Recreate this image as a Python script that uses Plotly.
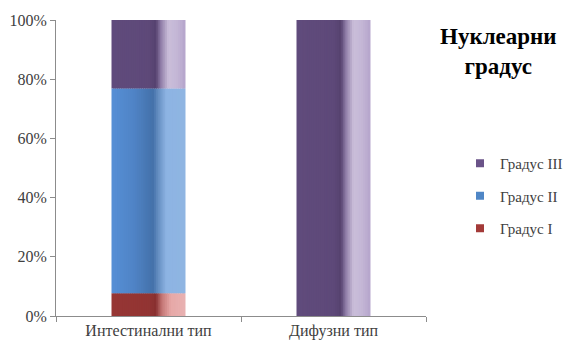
import plotly.graph_objects as go

# Data: share of nuclear grade by tumour type (%)
categories = ["Интестинални тип", "Дифузни тип"]
series_names = ["Градус I", "Градус II", "Градус III"]
grade_1 = [7.7, 0.0]
grade_2 = [69.2, 0.0]
grade_3 = [23.1, 100.0]
y_ticks = [0, 20, 40, 60, 80, 100]

series_values = [grade_1, grade_2, grade_3]

# Horizontal "cylinder" shading stops per series: (position across bar, rgb)
shading = {
    "Градус I": [(0.0, (150, 54, 52)), (0.5, (146, 52, 51)), (0.6, (136, 48, 48)),
                 (0.68, (196, 118, 117)), (0.8, (231, 168, 167)), (1.0, (232, 178, 178))],
    "Градус II": [(0.0, (86, 143, 214)), (0.3, (80, 132, 198)), (0.56, (68, 113, 170)),
                  (0.64, (104, 145, 196)), (0.74, (141, 180, 227)), (1.0, (143, 181, 226))],
    "Градус III": [(0.0, (96, 75, 124)), (0.5, (94, 73, 121)), (0.6, (86, 66, 111)),
                   (0.67, (146, 128, 170)), (0.77, (202, 190, 218)), (0.88, (196, 183, 214)),
                   (1.0, (181, 165, 204))],
}
legend_colors = {"Градус I": "#A33A38", "Градус II": "#4F86C6", "Градус III": "#6A5388"}


def shade(stops, t):
    for (p0, c0), (p1, c1) in zip(stops, stops[1:]):
        if p0 <= t <= p1:
            f = (t - p0) / (p1 - p0) if p1 > p0 else 0
            r, g, b = (round(a + (b_ - a) * f) for a, b_ in zip(c0, c1))
            return f"rgb({r},{g},{b})"
    r, g, b = stops[-1][1]
    return f"rgb({r},{g},{b})"


fig = go.Figure()

bar_width = 0.4
n_strips = 40
step = bar_width / n_strips

bases = [0.0] * len(categories)
for name, values in zip(series_names, series_values):
    stops = shading[name]
    for i in range(n_strips):
        t = (i + 0.5) / n_strips
        w = min(step * 1.6, bar_width - i * step)
        fig.add_trace(go.Bar(
            x=categories, y=values, base=list(bases),
            width=w, offset=-bar_width / 2 + i * step,
            marker=dict(color=shade(stops, t), line=dict(width=0)),
            showlegend=False, hoverinfo="skip",
        ))
    bases = [b + v for b, v in zip(bases, values)]

# Legend entries (Градус III on top)
for k, name in enumerate(reversed(series_names)):
    fig.add_trace(go.Scatter(
        x=[None], y=[None], mode="markers", name=name,
        marker=dict(symbol="square", size=8, color=legend_colors[name]),
        legendgroup=name, legendrank=k,
    ))

serif = "Liberation Serif, Times New Roman, serif"

ML, MR, MT, MB = 56, 145, 20, 27
W, H = 571, 343
plot_w = W - ML - MR
plot_h = H - MT - MB


def px_x(x):
    return (x - ML) / plot_w


def px_y(y):
    return (H - MB - y) / plot_h


fig.update_layout(
    width=W, height=H,
    margin=dict(l=ML, r=MR, t=MT, b=MB, autoexpand=False),
    paper_bgcolor="white", plot_bgcolor="white",
    barmode="overlay",
    font=dict(family=serif, size=16, color="#404040"),
    showlegend=True,
    legend=dict(
        x=px_x(460), y=px_y(147), xanchor="left", yanchor="top",
        tracegroupgap=10, itemsizing="trace",
        font=dict(family=serif, size=15, color="#404040"),
        bgcolor="rgba(0,0,0,0)",
    ),
    xaxis=dict(
        type="category", showline=True, linecolor="#8C8C8C", linewidth=1,
        ticks="outside", tickson="boundaries", ticklen=5, tickcolor="#8C8C8C",
        showgrid=False, tickfont=dict(family=serif, size=16, color="#404040"),
    ),
    yaxis=dict(
        range=[0, 100], tickvals=y_ticks, ticktext=[f"{v}%" for v in y_ticks],
        showline=True, linecolor="#8C8C8C", linewidth=1,
        ticks="outside", ticklen=5, tickcolor="#8C8C8C",
        showgrid=False, zeroline=False,
        tickfont=dict(family=serif, size=16, color="#404040"),
    ),
    annotations=[dict(
        text="<b>Нуклеарни<br>градус</b>",
        x=px_x(498), y=px_y(51), xref="paper", yref="paper",
        xanchor="center", yanchor="middle",
        showarrow=False, font=dict(family=serif, size=23, color="#000000"),
        align="center",
    )],
)

fig.write_html("out.html")
